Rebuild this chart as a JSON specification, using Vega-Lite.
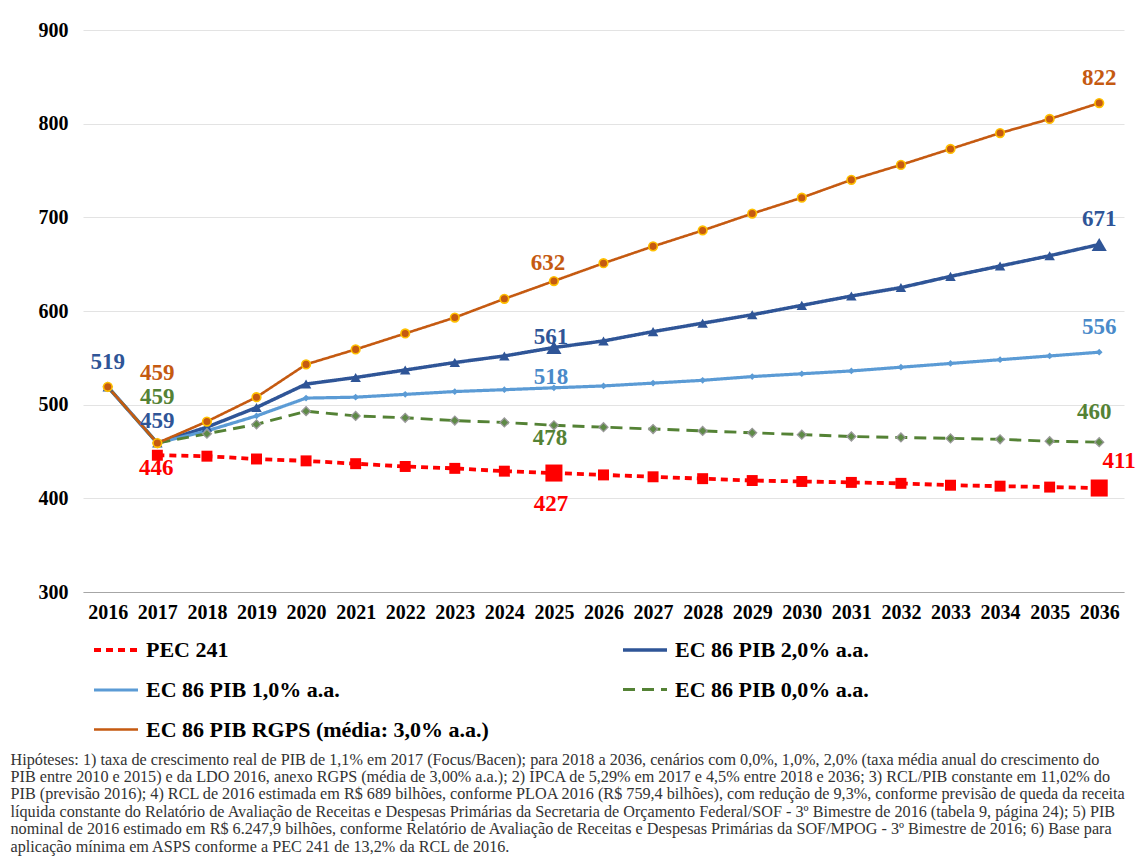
{
  "$schema": "https://vega.github.io/schema/vega-lite/v6.json",
  "autosize": {"type": "none"},
  "width": 1041,
  "height": 562,
  "padding": {"left": 83, "top": 30, "right": 11, "bottom": 270},
  "background": "white",
  "config": {
    "font": "Liberation Serif",
    "view": {"stroke": null},
    "axis": {"labelFont": "Liberation Serif", "labelFontWeight": "bold", "labelFontSize": 20, "labelColor": "#000000", "ticks": false}
  },
  "title": {
    "text": "R$ 689 bilhões).",
    "orient": "top",
    "anchor": "start",
    "frame": "group",
    "font": "Liberation Sans",
    "fontSize": 21,
    "fontWeight": "normal",
    "color": "#1a1a1a",
    "baseline": "alphabetic",
    "dx": -56,
    "offset": 22
  },
  "data": {"values": [
    {"ano": "2016", "serie": "EC 86 PIB 2,0% a.a.", "valor": 519},
    {"ano": "2016", "serie": "EC 86 PIB 1,0% a.a.", "valor": 519},
    {"ano": "2016", "serie": "EC 86 PIB 0,0% a.a.", "valor": 519},
    {"ano": "2016", "serie": "EC 86 PIB RGPS (média: 3,0% a.a.)", "valor": 519},
    {"ano": "2017", "serie": "PEC 241", "valor": 446},
    {"ano": "2017", "serie": "EC 86 PIB 2,0% a.a.", "valor": 459},
    {"ano": "2017", "serie": "EC 86 PIB 1,0% a.a.", "valor": 459},
    {"ano": "2017", "serie": "EC 86 PIB 0,0% a.a.", "valor": 459},
    {"ano": "2017", "serie": "EC 86 PIB RGPS (média: 3,0% a.a.)", "valor": 459},
    {"ano": "2018", "serie": "PEC 241", "valor": 445},
    {"ano": "2018", "serie": "EC 86 PIB 2,0% a.a.", "valor": 476},
    {"ano": "2018", "serie": "EC 86 PIB 1,0% a.a.", "valor": 472},
    {"ano": "2018", "serie": "EC 86 PIB 0,0% a.a.", "valor": 469},
    {"ano": "2018", "serie": "EC 86 PIB RGPS (média: 3,0% a.a.)", "valor": 482},
    {"ano": "2019", "serie": "PEC 241", "valor": 442},
    {"ano": "2019", "serie": "EC 86 PIB 2,0% a.a.", "valor": 497},
    {"ano": "2019", "serie": "EC 86 PIB 1,0% a.a.", "valor": 488},
    {"ano": "2019", "serie": "EC 86 PIB 0,0% a.a.", "valor": 479},
    {"ano": "2019", "serie": "EC 86 PIB RGPS (média: 3,0% a.a.)", "valor": 508},
    {"ano": "2020", "serie": "PEC 241", "valor": 440},
    {"ano": "2020", "serie": "EC 86 PIB 2,0% a.a.", "valor": 522},
    {"ano": "2020", "serie": "EC 86 PIB 1,0% a.a.", "valor": 507},
    {"ano": "2020", "serie": "EC 86 PIB 0,0% a.a.", "valor": 493},
    {"ano": "2020", "serie": "EC 86 PIB RGPS (média: 3,0% a.a.)", "valor": 543},
    {"ano": "2021", "serie": "PEC 241", "valor": 437},
    {"ano": "2021", "serie": "EC 86 PIB 2,0% a.a.", "valor": 529},
    {"ano": "2021", "serie": "EC 86 PIB 1,0% a.a.", "valor": 508},
    {"ano": "2021", "serie": "EC 86 PIB 0,0% a.a.", "valor": 488},
    {"ano": "2021", "serie": "EC 86 PIB RGPS (média: 3,0% a.a.)", "valor": 559},
    {"ano": "2022", "serie": "PEC 241", "valor": 434},
    {"ano": "2022", "serie": "EC 86 PIB 2,0% a.a.", "valor": 537},
    {"ano": "2022", "serie": "EC 86 PIB 1,0% a.a.", "valor": 511},
    {"ano": "2022", "serie": "EC 86 PIB 0,0% a.a.", "valor": 486},
    {"ano": "2022", "serie": "EC 86 PIB RGPS (média: 3,0% a.a.)", "valor": 576},
    {"ano": "2023", "serie": "PEC 241", "valor": 432},
    {"ano": "2023", "serie": "EC 86 PIB 2,0% a.a.", "valor": 545},
    {"ano": "2023", "serie": "EC 86 PIB 1,0% a.a.", "valor": 514},
    {"ano": "2023", "serie": "EC 86 PIB 0,0% a.a.", "valor": 483},
    {"ano": "2023", "serie": "EC 86 PIB RGPS (média: 3,0% a.a.)", "valor": 593},
    {"ano": "2024", "serie": "PEC 241", "valor": 429},
    {"ano": "2024", "serie": "EC 86 PIB 2,0% a.a.", "valor": 552},
    {"ano": "2024", "serie": "EC 86 PIB 1,0% a.a.", "valor": 516},
    {"ano": "2024", "serie": "EC 86 PIB 0,0% a.a.", "valor": 481},
    {"ano": "2024", "serie": "EC 86 PIB RGPS (média: 3,0% a.a.)", "valor": 613},
    {"ano": "2025", "serie": "PEC 241", "valor": 427},
    {"ano": "2025", "serie": "EC 86 PIB 2,0% a.a.", "valor": 561},
    {"ano": "2025", "serie": "EC 86 PIB 1,0% a.a.", "valor": 518},
    {"ano": "2025", "serie": "EC 86 PIB 0,0% a.a.", "valor": 478},
    {"ano": "2025", "serie": "EC 86 PIB RGPS (média: 3,0% a.a.)", "valor": 632},
    {"ano": "2026", "serie": "PEC 241", "valor": 425},
    {"ano": "2026", "serie": "EC 86 PIB 2,0% a.a.", "valor": 568},
    {"ano": "2026", "serie": "EC 86 PIB 1,0% a.a.", "valor": 520},
    {"ano": "2026", "serie": "EC 86 PIB 0,0% a.a.", "valor": 476},
    {"ano": "2026", "serie": "EC 86 PIB RGPS (média: 3,0% a.a.)", "valor": 651},
    {"ano": "2027", "serie": "PEC 241", "valor": 423},
    {"ano": "2027", "serie": "EC 86 PIB 2,0% a.a.", "valor": 578},
    {"ano": "2027", "serie": "EC 86 PIB 1,0% a.a.", "valor": 523},
    {"ano": "2027", "serie": "EC 86 PIB 0,0% a.a.", "valor": 474},
    {"ano": "2027", "serie": "EC 86 PIB RGPS (média: 3,0% a.a.)", "valor": 669},
    {"ano": "2028", "serie": "PEC 241", "valor": 421},
    {"ano": "2028", "serie": "EC 86 PIB 2,0% a.a.", "valor": 587},
    {"ano": "2028", "serie": "EC 86 PIB 1,0% a.a.", "valor": 526},
    {"ano": "2028", "serie": "EC 86 PIB 0,0% a.a.", "valor": 472},
    {"ano": "2028", "serie": "EC 86 PIB RGPS (média: 3,0% a.a.)", "valor": 686},
    {"ano": "2029", "serie": "PEC 241", "valor": 419},
    {"ano": "2029", "serie": "EC 86 PIB 2,0% a.a.", "valor": 596},
    {"ano": "2029", "serie": "EC 86 PIB 1,0% a.a.", "valor": 530},
    {"ano": "2029", "serie": "EC 86 PIB 0,0% a.a.", "valor": 470},
    {"ano": "2029", "serie": "EC 86 PIB RGPS (média: 3,0% a.a.)", "valor": 704},
    {"ano": "2030", "serie": "PEC 241", "valor": 418},
    {"ano": "2030", "serie": "EC 86 PIB 2,0% a.a.", "valor": 606},
    {"ano": "2030", "serie": "EC 86 PIB 1,0% a.a.", "valor": 533},
    {"ano": "2030", "serie": "EC 86 PIB 0,0% a.a.", "valor": 468},
    {"ano": "2030", "serie": "EC 86 PIB RGPS (média: 3,0% a.a.)", "valor": 721},
    {"ano": "2031", "serie": "PEC 241", "valor": 417},
    {"ano": "2031", "serie": "EC 86 PIB 2,0% a.a.", "valor": 616},
    {"ano": "2031", "serie": "EC 86 PIB 1,0% a.a.", "valor": 536},
    {"ano": "2031", "serie": "EC 86 PIB 0,0% a.a.", "valor": 466},
    {"ano": "2031", "serie": "EC 86 PIB RGPS (média: 3,0% a.a.)", "valor": 740},
    {"ano": "2032", "serie": "PEC 241", "valor": 416},
    {"ano": "2032", "serie": "EC 86 PIB 2,0% a.a.", "valor": 625},
    {"ano": "2032", "serie": "EC 86 PIB 1,0% a.a.", "valor": 540},
    {"ano": "2032", "serie": "EC 86 PIB 0,0% a.a.", "valor": 465},
    {"ano": "2032", "serie": "EC 86 PIB RGPS (média: 3,0% a.a.)", "valor": 756},
    {"ano": "2033", "serie": "PEC 241", "valor": 414},
    {"ano": "2033", "serie": "EC 86 PIB 2,0% a.a.", "valor": 637},
    {"ano": "2033", "serie": "EC 86 PIB 1,0% a.a.", "valor": 544},
    {"ano": "2033", "serie": "EC 86 PIB 0,0% a.a.", "valor": 464},
    {"ano": "2033", "serie": "EC 86 PIB RGPS (média: 3,0% a.a.)", "valor": 773},
    {"ano": "2034", "serie": "PEC 241", "valor": 413},
    {"ano": "2034", "serie": "EC 86 PIB 2,0% a.a.", "valor": 648},
    {"ano": "2034", "serie": "EC 86 PIB 1,0% a.a.", "valor": 548},
    {"ano": "2034", "serie": "EC 86 PIB 0,0% a.a.", "valor": 463},
    {"ano": "2034", "serie": "EC 86 PIB RGPS (média: 3,0% a.a.)", "valor": 790},
    {"ano": "2035", "serie": "PEC 241", "valor": 412},
    {"ano": "2035", "serie": "EC 86 PIB 2,0% a.a.", "valor": 659},
    {"ano": "2035", "serie": "EC 86 PIB 1,0% a.a.", "valor": 552},
    {"ano": "2035", "serie": "EC 86 PIB 0,0% a.a.", "valor": 461},
    {"ano": "2035", "serie": "EC 86 PIB RGPS (média: 3,0% a.a.)", "valor": 805},
    {"ano": "2036", "serie": "PEC 241", "valor": 411},
    {"ano": "2036", "serie": "EC 86 PIB 2,0% a.a.", "valor": 671},
    {"ano": "2036", "serie": "EC 86 PIB 1,0% a.a.", "valor": 556},
    {"ano": "2036", "serie": "EC 86 PIB 0,0% a.a.", "valor": 460},
    {"ano": "2036", "serie": "EC 86 PIB RGPS (média: 3,0% a.a.)", "valor": 822}
  ]},
  "encoding": {
    "x": {"field": "ano", "type": "ordinal", "scale": {"type": "point", "padding": 0.5},
          "axis": {"labelAngle": 0, "domain": true, "domainColor": "#A6A6A6", "domainWidth": 1.2, "labelPadding": 10, "grid": false,
                   "title": [
                     "Hipóteses: 1) taxa de crescimento  real de PIB de 1,1% em 2017 (Focus/Bacen);  para 2018 a 2036, cenários  com 0,0%, 1,0%, 2,0% (taxa média anual do crescimento  do",
                     "PIB entre 2010 e 2015) e da LDO 2016, anexo RGPS (média de 3,00% a.a.); 2) IPCA de 5,29% em 2017 e 4,5% entre 2018 e 2036; 3) RCL/PIB constante em 11,02% do",
                     "PIB (previsão 2016); 4) RCL de 2016 estimada em R$ 689 bilhões, conforme PLOA 2016 (R$ 759,4 bilhões), com redução de 9,3%, conforme previsão de queda da receita",
                     "líquida constante do Relatório de Avaliação de Receitas e Despesas Primárias da Secretaria de Orçamento Federal/SOF - 3º Bimestre de 2016 (tabela 9, página 24); 5) PIB",
                     "nominal de 2016 estimado em R$ 6.247,9 bilhões, conforme Relatório de Avaliação de Receitas e Despesas Primárias da SOF/MPOG - 3º Bimestre de 2016; 6) Base para",
                     "aplicação  mínima em ASPS conforme a PEC 241 de 13,2% da RCL de 2016."
                   ],
                   "titleFont": "Liberation Serif", "titleFontSize": 16.2, "titleFontWeight": "normal", "titleColor": "#333333",
                   "titleLineHeight": 17.4, "titleAnchor": "start", "titleAlign": "left", "titleBaseline": "top",
                   "titleX": -73, "titleY": 159, "titleLimit": 1300}},
    "y": {"field": "valor", "type": "quantitative", "scale": {"domain": [300, 900], "nice": false, "zero": false},
          "axis": {"title": null, "values": [300, 400, 500, 600, 700, 800, 900], "domain": false, "grid": true, "gridColor": "#E3E3E3", "gridWidth": 1, "labelPadding": 15}}
  },
  "layer": [
    {
      "mark": {"type": "line"},
      "encoding": {
        "color": {"field": "serie", "type": "nominal", "title": null,
          "scale": {"domain": ["PEC 241", "EC 86 PIB 2,0% a.a.", "EC 86 PIB 1,0% a.a.", "EC 86 PIB 0,0% a.a.", "EC 86 PIB RGPS (média: 3,0% a.a.)"],
                    "range": ["#FF0000", "#2F5597", "#5B9BD5", "#548235", "#C55A11"]},
          "legend": {"orient": "none", "legendX": 9, "legendY": 596, "direction": "horizontal", "columns": 2, "columnPadding": 127, "rowPadding": 5,
                     "symbolType": "stroke", "symbolSize": 1936, "symbolStrokeWidth": 3.5, "labelFont": "Liberation Serif", "labelFontSize": 22, "labelFontWeight": "bold", "labelColor": "#000000", "labelOffset": 6, "labelLimit": 600}},
        "strokeDash": {"field": "serie", "type": "nominal", "title": null,
          "scale": {"domain": ["PEC 241", "EC 86 PIB 2,0% a.a.", "EC 86 PIB 1,0% a.a.", "EC 86 PIB 0,0% a.a.", "EC 86 PIB RGPS (média: 3,0% a.a.)"],
                    "range": [[7, 5], [1, 0], [1, 0], [12, 7], [1, 0]]},
          "legend": {"orient": "none", "legendX": 9, "legendY": 596, "direction": "horizontal", "columns": 2, "columnPadding": 127, "rowPadding": 5,
                     "symbolType": "stroke", "symbolSize": 1936, "symbolStrokeWidth": 3.5, "labelFont": "Liberation Serif", "labelFontSize": 22, "labelFontWeight": "bold", "labelColor": "#000000", "labelOffset": 6, "labelLimit": 600}},
        "strokeWidth": {"field": "serie", "type": "nominal",
          "scale": {"domain": ["PEC 241", "EC 86 PIB 2,0% a.a.", "EC 86 PIB 1,0% a.a.", "EC 86 PIB 0,0% a.a.", "EC 86 PIB RGPS (média: 3,0% a.a.)"],
                    "range": [3.8, 2.6, 2.6, 3.8, 2.4]},
          "legend": null}
      }
    },
    {"transform": [{"filter": "datum.serie == 'PEC 241'"}],
     "mark": {"type": "point", "shape": "square", "filled": true, "size": 120, "color": "#FF0000", "opacity": 1}, "encoding": {}},
    {"transform": [{"filter": "datum.serie == 'EC 86 PIB 2,0% a.a.'"}],
     "mark": {"type": "point", "shape": "triangle-up", "filled": true, "size": 110, "color": "#2F5597", "opacity": 1}, "encoding": {}},
    {"transform": [{"filter": "datum.serie == 'EC 86 PIB 1,0% a.a.'"}],
     "mark": {"type": "point", "shape": "diamond", "filled": true, "size": 45, "color": "#5B9BD5", "opacity": 1}, "encoding": {}},
    {"transform": [{"filter": "datum.serie == 'EC 86 PIB 0,0% a.a.'"}],
     "mark": {"type": "point", "shape": "diamond", "filled": true, "size": 80, "fill": "#5E8A46", "stroke": "#999999", "strokeWidth": 1.3, "opacity": 1}, "encoding": {}},
    {"transform": [{"filter": "datum.serie == 'EC 86 PIB RGPS (média: 3,0% a.a.)'"}],
     "mark": {"type": "point", "shape": "circle", "filled": true, "size": 75, "fill": "#C55A11", "stroke": "#FFC000", "strokeWidth": 1.6, "opacity": 1}, "encoding": {}},
    {"transform": [{"filter": "datum.serie == 'PEC 241' && (datum.ano == '2025' || datum.ano == '2036')"}],
     "mark": {"type": "point", "shape": "square", "filled": true, "size": 290, "color": "#FF0000", "opacity": 1}, "encoding": {}},
    {"transform": [{"filter": "datum.serie == 'EC 86 PIB 2,0% a.a.' && (datum.ano == '2025' || datum.ano == '2036')"}],
     "mark": {"type": "point", "shape": "triangle-up", "filled": true, "size": 230, "color": "#2F5597", "opacity": 1}, "encoding": {}},

    {"transform": [{"filter": "datum.serie == 'PEC 241' && datum.ano == '2017'"}],
     "mark": {"type": "text", "fontSize": 23, "fontWeight": "bold", "baseline": "middle", "color": "#FF0000", "dy": 13, "dx": -1}, "encoding": {"text": {"field": "valor"}}},
    {"transform": [{"filter": "datum.serie == 'PEC 241' && datum.ano == '2025'"}],
     "mark": {"type": "text", "fontSize": 23, "fontWeight": "bold", "baseline": "middle", "color": "#FF0000", "dy": 31, "dx": -3}, "encoding": {"text": {"field": "valor"}}},
    {"transform": [{"filter": "datum.serie == 'PEC 241' && datum.ano == '2036'"}],
     "mark": {"type": "text", "fontSize": 23, "fontWeight": "bold", "baseline": "middle", "color": "#FF0000", "dy": -27, "dx": 20}, "encoding": {"text": {"field": "valor"}}},

    {"transform": [{"filter": "datum.serie == 'EC 86 PIB 2,0% a.a.' && (datum.ano == '2016' || datum.ano == '2036')"}],
     "mark": {"type": "text", "fontSize": 23, "fontWeight": "bold", "baseline": "middle", "color": "#2F5597", "dy": -25}, "encoding": {"text": {"field": "valor"}}},
    {"transform": [{"filter": "datum.serie == 'EC 86 PIB 2,0% a.a.' && datum.ano == '2017'"}],
     "mark": {"type": "text", "fontSize": 23, "fontWeight": "bold", "baseline": "middle", "color": "#2F5597", "dy": -22}, "encoding": {"text": {"field": "valor"}}},
    {"transform": [{"filter": "datum.serie == 'EC 86 PIB 2,0% a.a.' && datum.ano == '2025'"}],
     "mark": {"type": "text", "fontSize": 23, "fontWeight": "bold", "baseline": "middle", "color": "#2F5597", "dy": -11, "dx": -3}, "encoding": {"text": {"field": "valor"}}},

    {"transform": [{"filter": "datum.serie == 'EC 86 PIB 1,0% a.a.' && datum.ano == '2025'"}],
     "mark": {"type": "text", "fontSize": 23, "fontWeight": "bold", "baseline": "middle", "color": "#4A8AC9", "dy": -11, "dx": -3}, "encoding": {"text": {"field": "valor"}}},
    {"transform": [{"filter": "datum.serie == 'EC 86 PIB 1,0% a.a.' && datum.ano == '2036'"}],
     "mark": {"type": "text", "fontSize": 23, "fontWeight": "bold", "baseline": "middle", "color": "#4A8AC9", "dy": -25}, "encoding": {"text": {"field": "valor"}}},

    {"transform": [{"filter": "datum.serie == 'EC 86 PIB 0,0% a.a.' && datum.ano == '2017'"}],
     "mark": {"type": "text", "fontSize": 23, "fontWeight": "bold", "baseline": "middle", "color": "#548235", "dy": -46}, "encoding": {"text": {"field": "valor"}}},
    {"transform": [{"filter": "datum.serie == 'EC 86 PIB 0,0% a.a.' && datum.ano == '2025'"}],
     "mark": {"type": "text", "fontSize": 23, "fontWeight": "bold", "baseline": "middle", "color": "#548235", "dy": 13, "dx": -4}, "encoding": {"text": {"field": "valor"}}},
    {"transform": [{"filter": "datum.serie == 'EC 86 PIB 0,0% a.a.' && datum.ano == '2036'"}],
     "mark": {"type": "text", "fontSize": 23, "fontWeight": "bold", "baseline": "middle", "color": "#548235", "dy": -30, "dx": -5}, "encoding": {"text": {"field": "valor"}}},

    {"transform": [{"filter": "datum.serie == 'EC 86 PIB RGPS (média: 3,0% a.a.)' && datum.ano == '2017'"}],
     "mark": {"type": "text", "fontSize": 23, "fontWeight": "bold", "baseline": "middle", "color": "#C55A11", "dy": -70}, "encoding": {"text": {"field": "valor"}}},
    {"transform": [{"filter": "datum.serie == 'EC 86 PIB RGPS (média: 3,0% a.a.)' && datum.ano == '2025'"}],
     "mark": {"type": "text", "fontSize": 23, "fontWeight": "bold", "baseline": "middle", "color": "#C55A11", "dy": -18, "dx": -6}, "encoding": {"text": {"field": "valor"}}},
    {"transform": [{"filter": "datum.serie == 'EC 86 PIB RGPS (média: 3,0% a.a.)' && datum.ano == '2036'"}],
     "mark": {"type": "text", "fontSize": 23, "fontWeight": "bold", "baseline": "middle", "color": "#C55A11", "dy": -25}, "encoding": {"text": {"field": "valor"}}}
  ]
}
